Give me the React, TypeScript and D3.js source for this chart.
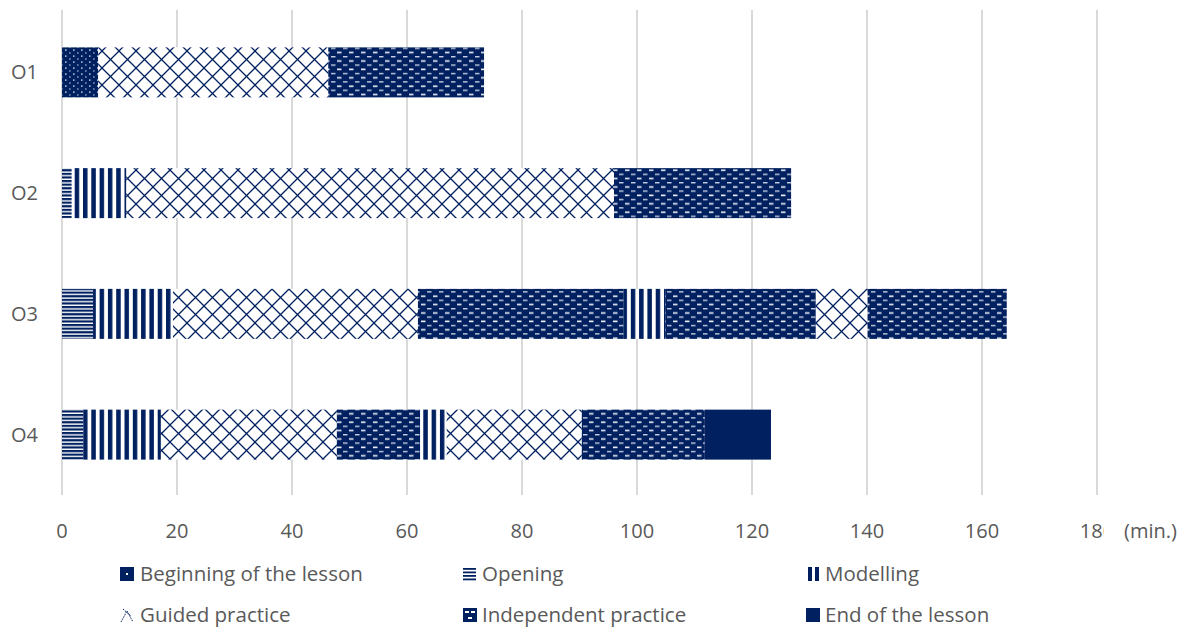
import React from "react";
import * as d3 from "d3";

const observations = ["O1", "O2", "O3", "O4"];
const phases = [
  "Beginning of the lesson",
  "Opening",
  "Modelling",
  "Guided practice",
  "Independent practice",
  "End of the lesson",
];
// phase index sequence per observation and duration (minutes)
const o1Phases = [0, 3, 4];
const o1Minutes = [6.3, 40, 27.1];
const o2Phases = [1, 2, 3, 4];
const o2Minutes = [1.7, 9.5, 84.8, 30.8];
const o3Phases = [1, 2, 3, 4, 2, 4, 3, 4];
const o3Minutes = [5.4, 13.9, 42.6, 35.8, 7.2, 26.2, 9.0, 24.2];
const o4Phases = [1, 2, 3, 4, 2, 3, 4, 5];
const o4Minutes = [3.7, 13.5, 30.6, 14.5, 4.6, 23.5, 21.4, 11.5];
const xTicks = [0, 20, 40, 60, 80, 100, 120, 140, 160, 180];
const axisUnit = "(min.)";

const NAVY = "#002060";
const GRID = "#d9d9d9";
const TEXT = "#595959";
const FONT = "'Open Sans', sans-serif";

const W = 1183;
const H = 628;

export default function App() {
  const x = d3.scaleLinear().domain([0, 180]).range([62, 1097]);
  const y = d3
    .scaleBand<string>()
    .domain(observations)
    .range([12, 495])
    .paddingInner(0.586)
    .paddingOuter(0.293);

  const seqs = [
    { obs: observations[0], p: o1Phases, m: o1Minutes },
    { obs: observations[1], p: o2Phases, m: o2Minutes },
    { obs: observations[2], p: o3Phases, m: o3Minutes },
    { obs: observations[3], p: o4Phases, m: o4Minutes },
  ];
  const segments: { obs: string; phase: number; x0: number; x1: number }[] = [];
  seqs.forEach((s) => {
    let acc = 0;
    s.p.forEach((ph, i) => {
      segments.push({ obs: s.obs, phase: ph, x0: acc, x1: acc + s.m[i] });
      acc += s.m[i];
    });
  });

  const fillFor = (ph: number) => (ph === 5 ? NAVY : `url(#pat${ph})`);

  const legendCols = [120, 463, 806];
  const legendRows = [574, 615];

  return (
    <svg
      width={W}
      height={H}
      style={{ position: "absolute", left: 0, top: 0, background: "#fff" }}
      fontFamily={FONT}
    >
      <defs>
        <pattern id="pat0" patternUnits="userSpaceOnUse" width="8" height="6">
          <rect width="8" height="6" fill={NAVY} />
          <rect x="1" y="1.5" width="1.6" height="1.2" fill="#e8ecf5" />
          <rect x="5" y="4.5" width="1.6" height="1.0" fill="#c8d0e4" />
        </pattern>
        <pattern id="pat1" patternUnits="userSpaceOnUse" width="4" height="3.6">
          <rect width="4" height="3.6" fill="#fff" />
          <rect y="0" width="4" height="2.2" fill={NAVY} />
        </pattern>
        <pattern id="pat2" patternUnits="userSpaceOnUse" width="8.3" height="4">
          <rect width="8.3" height="4" fill="#fff" />
          <rect x="0" width="4.5" height="4" fill={NAVY} />
        </pattern>
        <pattern id="pat3" patternUnits="userSpaceOnUse" width="17" height="17">
          <rect width="17" height="17" fill="#fff" />
          <path d="M0,0 L17,17 M17,0 L0,17" stroke={NAVY} strokeWidth="1.3" fill="none" />
        </pattern>
        <pattern id="pat4" patternUnits="userSpaceOnUse" width="12" height="8.4">
          <rect width="12" height="8.4" fill={NAVY} />
          <rect x="1" y="1.4" width="4.5" height="1.6" fill="#f0f2f8" />
          <rect x="7" y="5.6" width="4.5" height="1.4" fill="#c8d0e4" />
        </pattern>
      </defs>

      {xTicks.map((t) => (
        <line key={t} x1={x(t)} x2={x(t)} y1={10} y2={495} stroke={GRID} strokeWidth={2} />
      ))}

      {segments.map((s, i) => (
        <rect
          key={i}
          x={x(s.x0)}
          width={x(s.x1) - x(s.x0)}
          y={y(s.obs)}
          height={y.bandwidth()}
          fill={fillFor(s.phase)}
        />
      ))}

      {xTicks.map((t) => (
        <text key={t} x={x(t)} y={538} textAnchor="middle" fontSize={20} fill={TEXT}>
          {t}
        </text>
      ))}
      <rect x={1104} y={515} width={79} height={30} fill="#fff" />
      <text x={1124} y={538} fontSize={20} fill={TEXT}>
        {axisUnit}
      </text>

      {observations.map((o) => (
        <text
          key={o}
          x={38}
          y={(y(o) as number) + y.bandwidth() / 2 + 7}
          textAnchor="end"
          fontSize={20}
          fill={TEXT}
        >
          {o}
        </text>
      ))}

      {phases.map((p, i) => {
        const cx = legendCols[i % 3];
        const cy = legendRows[Math.floor(i / 3)];
        return (
          <g key={p} transform={`translate(${cx},${cy})`}>
            {i === 0 && (
              <g>
                <rect x={0} y={-7} width={14} height={14} fill={NAVY} />
                <rect x={6} y={-1} width={2} height={2} fill="#fff" />
              </g>
            )}
            {i === 1 && (
              <g>
                {[0, 1, 2, 3].map((k) => (
                  <rect key={k} x={0} y={-6 + k * 3.5} width={13} height={1.8} fill={NAVY} />
                ))}
              </g>
            )}
            {i === 2 && (
              <g>
                <rect x={2} y={-7} width={4} height={14} fill={NAVY} />
                <rect x={9} y={-7} width={4} height={14} fill={NAVY} />
              </g>
            )}
            {i === 3 && (
              <path
                d="M1,7 L7,-4 L13,7 M3,-6 L11,1"
                stroke={NAVY}
                strokeWidth={1}
                fill="none"
                strokeDasharray="1.5,1"
              />
            )}
            {i === 4 && (
              <g>
                <rect x={0} y={-7} width={14} height={14} fill={NAVY} />
                <rect x={2} y={-4} width={4} height={2} fill="#fff" />
                <rect x={8} y={-4} width={4} height={2} fill="#fff" />
                <rect x={5} y={2} width={4} height={2} fill="#fff" />
              </g>
            )}
            {i === 5 && <rect x={0} y={-7} width={14} height={14} fill={NAVY} />}
            <text x={i % 3 === 0 ? 20 : 19} y={7} fontSize={20.5} fill={TEXT}>
              {p}
            </text>
          </g>
        );
      })}
    </svg>
  );
}
